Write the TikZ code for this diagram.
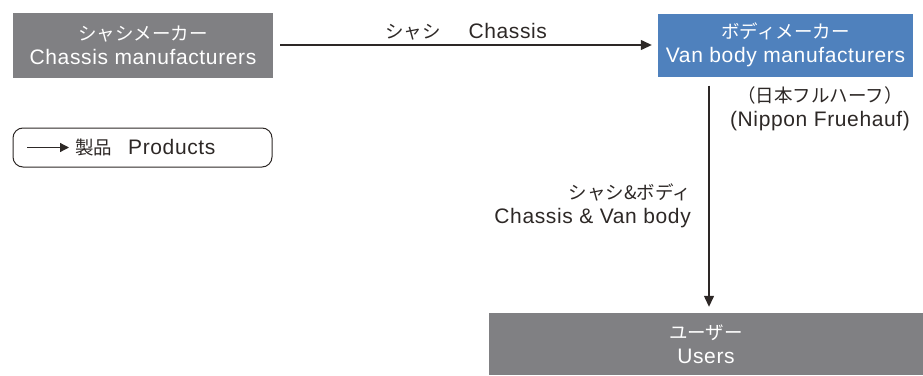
\documentclass[tikz,border=0pt]{standalone}
\usepackage{fontspec}
\setmainfont{Liberation Sans}[LetterSpace=3]
\newfontfamily\cjk{Noto Sans CJK JP}
\usetikzlibrary{arrows.meta}
\definecolor{boxgray}{RGB}{128,128,131}
\definecolor{boxblue}{RGB}{79,129,189}
\definecolor{txt}{RGB}{45,40,38}
\newcommand\jp{\fontsize{18.5}{24}\cjk}
\begin{document}
\begin{tikzpicture}[x=1pt,y=-1pt,
  every node/.style={font=\fontsize{21}{24}\selectfont, inner sep=0pt},
  graybox/.style={fill=boxgray, text=white, align=center},
  bluebox/.style={fill=boxblue, text=white, align=center},
  lbl/.style={text=txt, align=center},
  arr/.style={-{Triangle[length=11pt,width=10pt]}, line width=1.3pt, draw=txt}]
\useasboundingbox (0,0) rectangle (923,375);
\node[graybox, minimum width=260pt, minimum height=65pt] (chassis) at (143,45) {{\jp シャシメーカー}\\Chassis manufacturers};
\node[bluebox, minimum width=255pt, minimum height=63pt] (vanbody) at (785.5,45) {{\jp ボディメーカー}\\Van body manufacturers};
\node[graybox, minimum width=434pt, minimum height=62pt] (users) at (706,344) {{\jp ユーザー}\\Users};
\coordinate (vx) at (709,0);
\draw[arr, shorten <=7pt, shorten >=6pt] (chassis.east) -- (vanbody.west);
\draw[arr, shorten <=9pt, shorten >=6pt] (vanbody.south -| vx) -- (users.north -| vx);
\node[lbl] (chlbl) at (466,32) {{\jp シャシ}\hspace{28pt}Chassis};
\node[lbl] (nf) at (820,109) {{\jp （日本フルハーフ）}\\(Nippon Fruehauf)};
\node[lbl, align=right, anchor=east] (cv) at (691,206) {{\jp シャシ\&ボディ}\\Chassis \& Van body};
\node[draw=txt, line width=1pt, rounded corners=10pt, minimum width=259pt, minimum height=39pt] (legend) at (142.5,147.5) {};
\coordinate (la) at (27,147.5);
\coordinate (lb) at (69,147.5);
\draw[arr, -{Triangle[length=9pt,width=9pt]}] (la) -- (lb);
\node[lbl, anchor=west] (legtxt) at (75,147.5) {{\jp 製品}\hspace{16pt}Products};
\end{tikzpicture}
\end{document}
